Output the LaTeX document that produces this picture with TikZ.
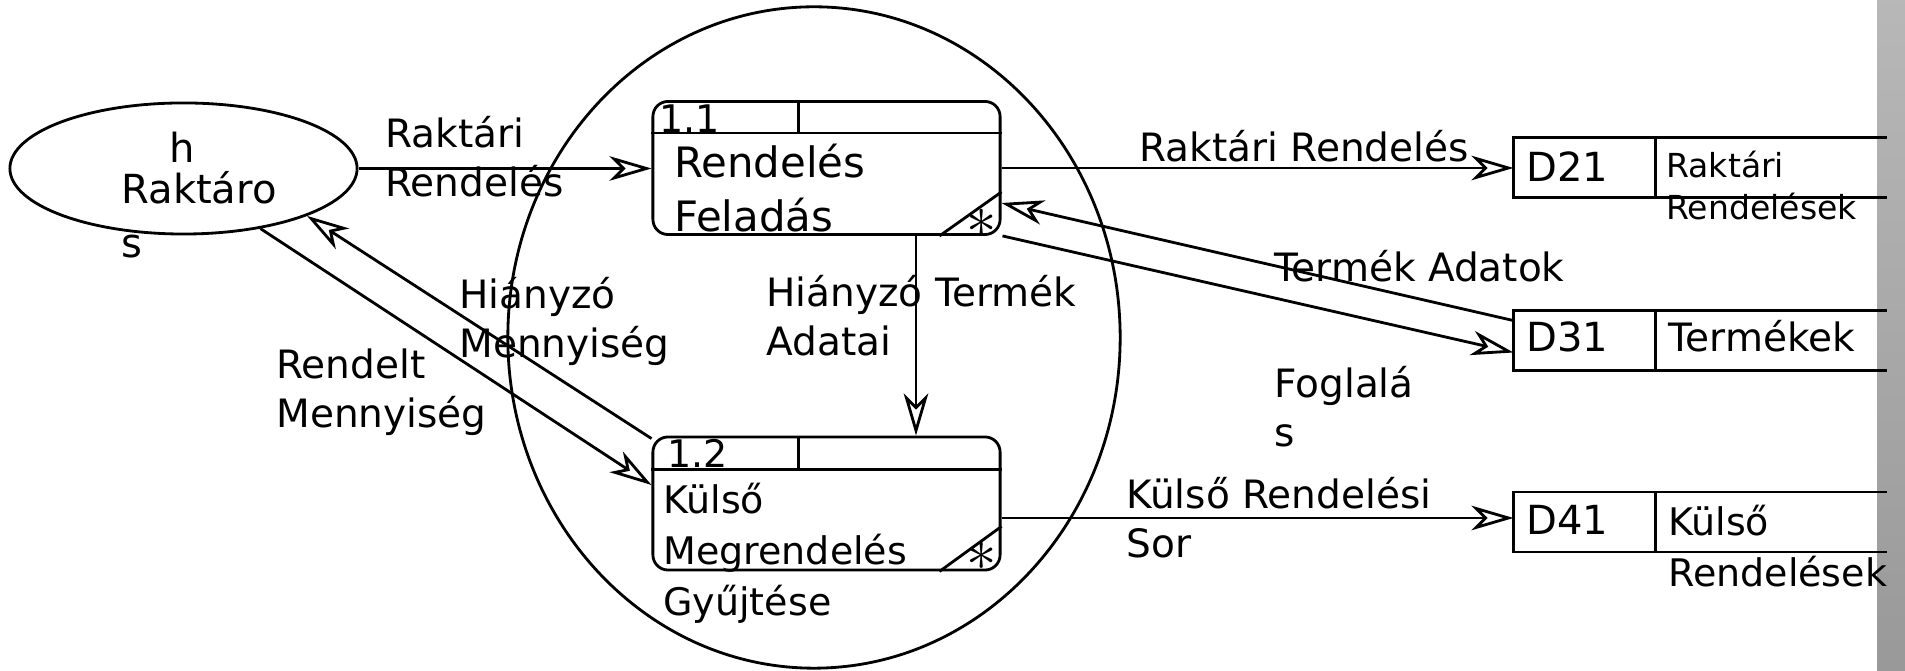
\documentclass[tikz,border=0pt]{standalone}
\usepackage{fontspec}
\setmainfont{DejaVu Sans}
\usetikzlibrary{shapes.geometric,arrows.meta,calc}
\begin{document}
\begin{tikzpicture}[x=0.01cm,y=-0.01cm,line width=0.8pt,
  flow/.style={-{Stealth[open,length=12pt,width=7pt,inset=3.5pt]}},
  lbl/.style={inner sep=0,anchor=base west,align=left},
  fA/.style={font=\fontsize{11.9}{15.6}\selectfont},
  fB/.style={font=\fontsize{10.8}{14.6}\selectfont},
  fC/.style={font=\fontsize{11.1}{14.2}\selectfont},
  fD/.style={font=\fontsize{9.4}{12.2}\selectfont},
  fE/.style={font=\fontsize{11.4}{15.4}\selectfont},
  proc/.style={draw,rounded corners=4.3pt,minimum width=3.47cm,minimum height=1.33cm,inner sep=0},
  store/.style={minimum width=3.70cm,minimum height=0.57cm,inner sep=0}]
\useasboundingbox (0,0) rectangle (1905,671);
\shade[top color=black!28,bottom color=black!40] (1877,0) rectangle (1905,671);
\node[ellipse,draw,minimum width=6.12cm,minimum height=6.61cm,inner sep=0] (gid0) at (814,337.5){};
\node[ellipse,draw,minimum width=3.47cm,minimum height=1.31cm,inner sep=0] (eid0) at (183.5,168.5){};
\node[lbl,fE,anchor=base] (tid0) at (182,163){h};
\node[lbl,fE] (tid1) at (120,204){Raktáro};
\node[lbl,fE] (tid2) at (120,258){s};
\node[proc] (pid11) at (826.5,168){};
\draw ($(pid11.north west)+(0,33)$) -- ($(pid11.north east)+(0,33)$);
\draw ($(pid11.north west)+(147,0)$) -- ($(pid11.north west)+(147,33)$);
\draw ($(pid11.south east)+(-62,0)$) -- ($(pid11.south east)+(0,-44)$);
\node[inner sep=0,font=\fontsize{17}{17}\selectfont] (aid11) at ($(pid11.south east)+(-20,-13)$){$\ast$};
\node[lbl,fB] (tid11) at (658,133){1.1};
\node[lbl,fA] (tid12) at (673,232){Rendelés\\Feladás};
\node[proc] (pid12) at (826.5,503.5){};
\draw ($(pid12.north west)+(0,34)$) -- ($(pid12.north east)+(0,34)$);
\draw ($(pid12.north west)+(147,0)$) -- ($(pid12.north west)+(147,34)$);
\draw ($(pid12.south east)+(-62,0)$) -- ($(pid12.south east)+(0,-45)$);
\node[inner sep=0,font=\fontsize{17}{17}\selectfont] (aid12) at ($(pid12.south east)+(-20,-15)$){$\ast$};
\node[lbl,fB] (tid13) at (666,468){1.2};
\node[lbl,fB] (tid14) at (662,616){Külső\\Megrendelés\\Gyűjtése};
\node[store] (did21) at (1700,167.5){};
\draw (did21.north east) -- (did21.north west) -- (did21.south west) -- (did21.south east);
\draw ($(did21.north west)+(142,0)$) -- ($(did21.south west)+(142,0)$);
\node[lbl,fE] (tid21) at (1525,182){D21};
\node[lbl,fD] (tid22) at (1665,220){Raktári\\Rendelések};
\node[store] (did31) at (1700,340.5){};
\draw (did31.north east) -- (did31.north west) -- (did31.south west) -- (did31.south east);
\draw ($(did31.north west)+(142,0)$) -- ($(did31.south west)+(142,0)$);
\node[lbl,fE] (tid31) at (1525,352){D31};
\node[lbl,fC] (tid32) at (1667,352){Termékek};
\node[store] (did41) at (1700,522){};
\draw (did41.north east) -- (did41.north west) -- (did41.south west) -- (did41.south east);
\draw ($(did41.north west)+(142,0)$) -- ($(did41.south west)+(142,0)$);
\node[lbl,fE] (tid41) at (1525,535){D41};
\node[lbl,fB] (tid42) at (1667,587){Külső\\Rendelések};
\draw[flow] (eid0.east) -- (pid11.west |- eid0.east);
\draw[flow] (pid11.east) -- (did21.west |- pid11.east);
\draw[flow] ($(did31.north west)+(0,10)$) -- ($(pid11.east)+(0,35)$);
\draw[flow] ($(pid11.south east)+(1,0)$) -- ($(did31.west)+(0,12)$);
\draw[flow] ($(pid11.south)+(89.5,0)$) -- ($(pid12.north)+(89.5,0)$);
\draw[flow] ($(pid12.north west)+(0,3)$) -- (eid0.-21.4);
\draw[flow] (eid0.-38.8) -- ($(pid12.west)+(0,-18.5)$);
\draw[flow] ($(pid12.east)+(0,14.5)$) -- ($(did41.west)+(0,-4)$);
\node[lbl,fC] (lid1) at (384,197){Raktári\\Rendelés};
\node[lbl,fC] (lid2) at (1138,162){Raktári Rendelés};
\node[lbl,fC] (lid3) at (1273,282){Termék Adatok};
\node[lbl,fC] (lid4) at (1273,447){Foglalá\\s};
\node[lbl,fC] (lid5) at (765,356){Hiányzó Termék\\Adatai};
\node[lbl,fC] (lid6) at (458,358){Hiányzó\\Mennyiség};
\node[lbl,fC] (lid7) at (275,428){Rendelt\\Mennyiség};
\node[lbl,fC] (lid8) at (1125,558){Külső Rendelési\\Sor};
\end{tikzpicture}
\end{document}
